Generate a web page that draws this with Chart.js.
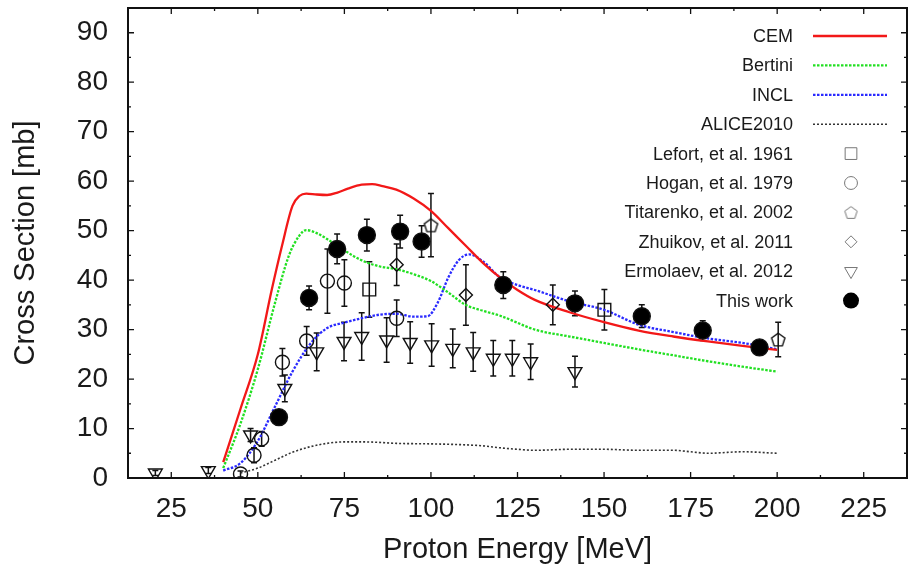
<!DOCTYPE html>
<html>
<head>
<meta charset="utf-8">
<script src="https://cdn.jsdelivr.net/npm/chart.js@4.4.1/dist/chart.umd.min.js"></script>
<style>
  html, body { margin: 0; padding: 0; background: #fff; }
</style>
</head>
<body>
<canvas id="chart" width="909" height="571"></canvas>
<script>
// Tick labels
const xTicks = [25, 50, 75, 100, 125, 150, 175, 200, 225];
const yTicks = [0, 10, 20, 30, 40, 50, 60, 70, 80, 90];

// Model curves (energy in MeV, cross section in mb)
const cemE = [40, 42, 45, 50, 54, 57, 60, 62, 64, 67, 70, 73, 76, 80, 83, 86, 90, 95, 100, 105, 110, 115, 120, 125, 130, 140, 150, 160, 170, 180, 190, 200];
const cemXS = [3.2, 7.5, 14, 25, 38, 47, 55, 57, 57.5, 57.3, 57.2, 57.7, 58.5, 59.3, 59.4, 59, 58.3, 56.5, 54, 50.5, 47, 43.5, 40.5, 38, 36, 33.5, 31.5, 29.8, 28.6, 27.6, 26.7, 25.9];

const bertE = [40, 45, 50, 55, 59, 62, 64, 67, 70, 75, 80, 85, 90, 95, 100, 105, 110, 115, 120, 130, 140, 150, 160, 170, 180, 190, 200];
const bertXS = [2, 11, 22, 35.5, 45, 49, 50.1, 49.5, 48.3, 46, 44, 42.8, 42.2, 41.2, 39.8, 37.5, 35, 33.8, 32.8, 30, 28.6, 27.3, 26, 24.8, 23.6, 22.5, 21.5];

const inclE = [40, 45, 50, 55, 60, 65, 70, 75, 80, 85, 90, 95, 99, 102, 105, 108, 111, 115, 120, 125, 130, 140, 150, 160, 170, 180, 190, 200];
const inclXS = [1.5, 3, 7.5, 14.5, 21.5, 27, 30.3, 31.4, 32.3, 33, 33.2, 32.6, 32.7, 35.5, 40.5, 44, 45.2, 43.8, 40.5, 39, 38, 35.7, 34, 31, 29.5, 28.2, 27.3, 26];

const aliceE = [45, 50, 55, 60, 65, 70, 75, 80, 85, 90, 100, 110, 115, 120, 125, 130, 140, 150, 160, 170, 175, 180, 190, 200];
const aliceXS = [1, 2, 3.6, 5.2, 6.3, 7, 7.3, 7.3, 7.2, 7.0, 6.9, 6.7, 6.5, 6.1, 5.8, 5.6, 5.8, 5.8, 5.6, 5.6, 5.3, 5.0, 5.3, 5.0];

// Measurements
const lefortE = [82.2, 150.1];
const lefortXS = [38.1, 34.0];
const lefortErr = [5.6, 4.1];

const hoganE = [45.0, 48.9, 51.1, 57.1, 64.1, 70.1, 75.0, 90.1];
const hoganXS = [0.8, 4.6, 7.9, 23.4, 27.7, 39.8, 39.4, 32.3];
const hoganErr = [0.6, 1.5, 1.5, 2.8, 2.9, 6.5, 4.7, 3.7];

const titE = [100.0, 200.3];
const titXS = [51.1, 28.0];
const titErr = [6.4, 3.5];

const zhuE = [90.1, 110.1, 135.2];
const zhuXS = [43.1, 37.0, 35.0];
const zhuErr = [4.2, 6.1, 4.0];

const ermE = [20.4, 35.7, 47.9, 57.8, 67.0, 74.9, 80.0, 87.2, 94.0, 100.2, 106.3, 112.2, 118.0, 123.5, 128.8, 141.6];
const ermXS = [1.0, 1.5, 8.7, 18.1, 25.5, 27.6, 28.6, 27.9, 27.4, 26.9, 26.2, 25.5, 24.2, 24.2, 23.5, 21.5];
const ermErr = [0.5, 0.6, 1.3, 2.7, 3.8, 3.9, 4.8, 4.5, 4.2, 4.3, 3.9, 3.9, 3.6, 3.6, 3.6, 3.1];

const thisE = [56.1, 64.8, 72.9, 81.5, 91.1, 97.3, 120.9, 141.6, 160.9, 178.5, 194.9];
const thisXS = [12.3, 36.4, 46.3, 49.1, 49.8, 47.8, 39.0, 35.3, 32.7, 29.8, 26.4];
const thisErr = [0.8, 2.4, 3.0, 3.2, 3.3, 3.2, 2.7, 2.5, 2.3, 2.0, 1.3];

const FONT = "'Liberation Sans', Arial, sans-serif";
Chart.defaults.font.family = FONT;
Chart.defaults.color = '#1a1a1a';

function pts(xs, ys) {
    return xs.map((x, i) => ({ x: x, y: ys[i] }));
}

// pentagon marker as an image, Chart.js has no built-in one
function makePentagon(r, color, lw) {
    const c = document.createElement('canvas');
    const s = Math.ceil(2 * r + 2 * lw + 2);
    c.width = s;
    c.height = s;
    const g = c.getContext('2d');
    g.strokeStyle = color;
    g.lineWidth = lw;
    g.beginPath();
    for (let k = 0; k < 5; k++) {
        const a = -Math.PI / 2 + k * 2 * Math.PI / 5;
        const px = s / 2 + r * Math.cos(a);
        const py = s / 2 + r * Math.sin(a) + r * 0.1;
        if (k === 0) g.moveTo(px, py); else g.lineTo(px, py);
    }
    g.closePath();
    g.stroke();
    return c;
}

const pentData = makePentagon(7, '#111', 1.4);
const pentLegend = makePentagon(6.5, '#777', 1);

function curve(label, xs, ys, color, dash, width) {
    return {
        type: 'line', label: label, data: pts(xs, ys),
        borderColor: color, borderWidth: width, borderDash: dash,
        pointRadius: 0, cubicInterpolationMode: 'monotone', fill: false, order: 2
    };
}

function marks(label, xs, ys, errs, style, radius, filled, rotation) {
    return {
        type: 'scatter', label: label, data: pts(xs, ys), errors: errs,
        pointStyle: style, pointRadius: radius, pointRotation: rotation || 0,
        pointBorderColor: '#111', pointBorderWidth: 1.4,
        pointBackgroundColor: filled ? '#000' : 'rgba(0,0,0,0)',
        legendFilled: filled, order: filled ? 0 : 1
    };
}

// vertical error bars with small caps
const errorBars = {
    id: 'errorBars',
    beforeDatasetsDraw(chart) {
        const ctx = chart.ctx;
        const xs = chart.scales.x, ys = chart.scales.y;
        ctx.save();
        ctx.strokeStyle = '#111';
        ctx.lineWidth = 1.5;
        chart.data.datasets.forEach(ds => {
            if (!ds.errors) return;
            ds.data.forEach((p, j) => {
                const px = xs.getPixelForValue(p.x);
                const top = ys.getPixelForValue(p.y + ds.errors[j]);
                const bot = ys.getPixelForValue(Math.max(0, p.y - ds.errors[j]));
                ctx.beginPath();
                ctx.moveTo(px, top); ctx.lineTo(px, bot);
                ctx.moveTo(px - 3, top); ctx.lineTo(px + 3, top);
                ctx.moveTo(px - 3, bot); ctx.lineTo(px + 3, bot);
                ctx.stroke();
            });
        });
        ctx.restore();
    }
};

// gnuplot style frame with inward ticks on all four sides
const frame = {
    id: 'frame',
    afterDatasetsDraw(chart) {
        const ctx = chart.ctx;
        const a = chart.chartArea;
        const xs = chart.scales.x, ys = chart.scales.y;
        ctx.save();
        ctx.strokeStyle = '#111';
        ctx.lineWidth = 1.3;
        ctx.beginPath();
        xTicks.forEach(v => {
            const px = xs.getPixelForValue(v);
            ctx.moveTo(px, a.bottom); ctx.lineTo(px, a.bottom - 6);
            ctx.moveTo(px, a.top); ctx.lineTo(px, a.top + 6);
            const m = xs.getPixelForValue(v + 12.5);
            if (m < a.right - 1) {
                ctx.moveTo(m, a.bottom); ctx.lineTo(m, a.bottom - 3);
                ctx.moveTo(m, a.top); ctx.lineTo(m, a.top + 3);
            }
        });
        yTicks.forEach(v => {
            const py = ys.getPixelForValue(v);
            ctx.moveTo(a.left, py); ctx.lineTo(a.left + 6, py);
            ctx.moveTo(a.right, py); ctx.lineTo(a.right - 6, py);
            const m = ys.getPixelForValue(v + 5);
            if (m > a.top + 1) {
                ctx.moveTo(a.left, m); ctx.lineTo(a.left + 3, m);
                ctx.moveTo(a.right, m); ctx.lineTo(a.right - 3, m);
            }
        });
        ctx.stroke();
        ctx.lineWidth = 2;
        ctx.strokeRect(a.left, a.top, a.right - a.left, a.bottom - a.top);
        ctx.restore();
    }
};

// key in the top right corner, text right aligned with sample on the right
const key = {
    id: 'key',
    afterDraw(chart) {
        const ctx = chart.ctx;
        ctx.save();
        ctx.font = '18px ' + FONT;
        ctx.textAlign = 'right';
        ctx.textBaseline = 'middle';
        chart.data.datasets.forEach((ds, i) => {
            const y = 36 + i * 29.4;
            ctx.fillStyle = '#1a1a1a';
            ctx.fillText(ds.label, 793, y + 1);
            if (ds.type === 'line') {
                ctx.strokeStyle = ds.borderColor;
                ctx.lineWidth = ds.borderWidth;
                ctx.setLineDash(ds.borderDash || []);
                ctx.beginPath();
                ctx.moveTo(813, y); ctx.lineTo(887, y);
                ctx.stroke();
                ctx.setLineDash([]);
            } else if (ds.legendFilled) {
                ctx.fillStyle = '#000';
                ctx.beginPath();
                ctx.arc(851, y, 8, 0, Math.PI * 2);
                ctx.fill();
            } else {
                ctx.fillStyle = 'rgba(0,0,0,0)';
                ctx.strokeStyle = '#777';
                ctx.lineWidth = 1;
                const style = ds.pointStyle === pentData ? pentLegend : ds.pointStyle;
                Chart.helpers.drawPoint(ctx, {
                    pointStyle: style, radius: ds.pointRadius * 0.92,
                    rotation: ds.pointRotation, borderWidth: 1
                }, 851, y);
            }
        });
        ctx.restore();
    }
};

new Chart(document.getElementById('chart'), {
    data: {
        datasets: [
            curve('CEM', cemE, cemXS, '#f21818', [], 2.3),
            curve('Bertini', bertE, bertXS, '#22e022', [2.5, 1.5], 2.3),
            curve('INCL', inclE, inclXS, '#2a2aff', [2.5, 1.5], 2.3),
            curve('ALICE2010', aliceE, aliceXS, '#333', [2, 2], 1.6),
            marks('Lefort, et al. 1961', lefortE, lefortXS, lefortErr, 'rect', 9, false),
            marks('Hogan, et al. 1979', hoganE, hoganXS, hoganErr, 'circle', 7, false),
            marks('Titarenko, et al. 2002', titE, titXS, titErr, pentData, 7, false),
            marks('Zhuikov, et al. 2011', zhuE, zhuXS, zhuErr, 'rectRot', 6.5, false),
            marks('Ermolaev, et al. 2012', ermE, ermXS, ermErr, 'triangle', 8, false, 180),
            marks('This work', thisE, thisXS, thisErr, 'circle', 8.5, true)
        ]
    },
    options: {
        responsive: false,
        animation: false,
        layout: { autoPadding: false, padding: { top: 8, right: 2, left: 0, bottom: 0 } },
        plugins: {
            legend: { display: false },
            tooltip: { enabled: false }
        },
        scales: {
            x: {
                type: 'linear', min: 12.5, max: 237.5,
                grid: { display: false, drawTicks: false },
                border: { display: false },
                afterBuildTicks: s => { s.ticks = xTicks.map(v => ({ value: v })); },
                afterFit: s => { s.height = 93; s.paddingLeft = 0; s.paddingRight = 0; },
                ticks: { font: { size: 28 }, padding: 14, maxRotation: 0, color: '#1a1a1a' },
                title: {
                    display: true, text: 'Proton Energy [MeV]',
                    font: { size: 29 }, padding: { top: 0, bottom: 4 }, color: '#1a1a1a'
                }
            },
            y: {
                type: 'linear', min: 0, max: 95,
                grid: { display: false, drawTicks: false },
                border: { display: false },
                afterBuildTicks: s => { s.ticks = yTicks.map(v => ({ value: v })); },
                afterFit: s => { s.width = 128; s.paddingTop = 0; s.paddingBottom = 0; },
                ticks: { font: { size: 28 }, padding: 20, color: '#1a1a1a' },
                title: {
                    display: true, text: 'Cross Section [mb]',
                    font: { size: 29 }, padding: { top: 9, bottom: 0 }, color: '#1a1a1a'
                }
            }
        }
    },
    plugins: [errorBars, frame, key]
});
</script>
</body>
</html>
